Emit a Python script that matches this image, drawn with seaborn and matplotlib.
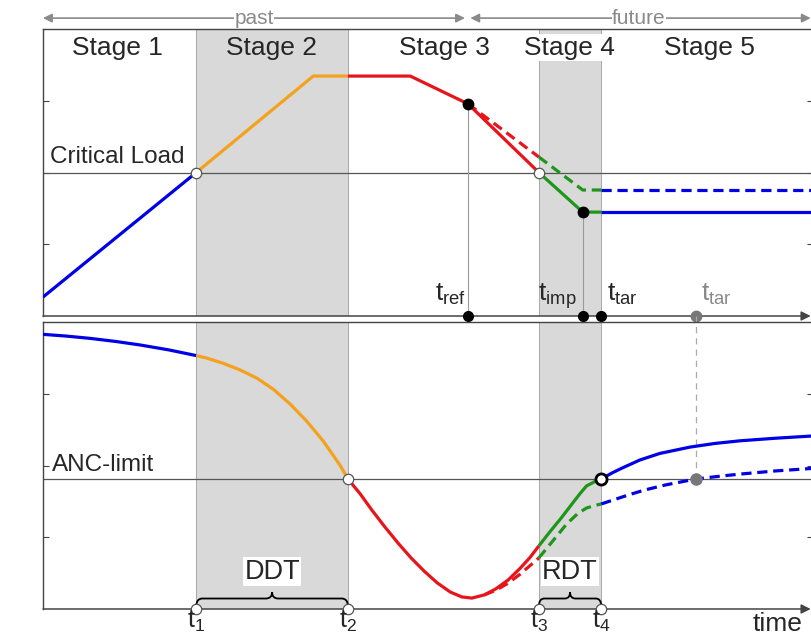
import matplotlib
matplotlib.use("Agg")
import matplotlib.pyplot as plt
from matplotlib.path import Path
from matplotlib.patches import PathPatch
import seaborn as sns

# key times (arbitrary time units, axis runs 0..100)
t1, t2, t3, t4 = 19.9, 39.6, 64.4, 72.5
t_ref, t_imp, t_tar_late = 55.2, 70.1, 84.8
critical_load = 50.0
anc_limit = 45.3

# --- acid deposition (top panel) ---
dep_hist_t = [0, t1]
dep_hist_y = [6.6, 50.0]
dep_rise_t = [t1, 35.1, t2]
dep_rise_y = [50.0, 83.6, 83.6]
dep_red_t = [t2, 47.7, t_ref, t3]
dep_red_y = [83.6, 83.6, 73.9, 50.0]
dep_red_slow_t = [t_ref, t3]
dep_red_slow_y = [73.9, 55.4]
dep_green_t = [t3, t_imp, t4]
dep_green_y = [50.0, 36.2, 36.2]
dep_green_slow_t = [t3, t_imp, t4]
dep_green_slow_y = [55.4, 43.9, 43.9]
dep_future_t = [t4, 100]
dep_future_y = [36.2, 36.2]
dep_future_slow_y = [43.9, 43.9]

# --- chemical response (bottom panel) ---
chem_blue_t = [0, 3.0, 6.1, 9.5, 12.6, 16.3, t1]
chem_blue_y = [95.7, 95.1, 94.3, 93.2, 92.0, 90.3, 88.3]
chem_orange_t = [t1, 21.3, 23.4, 25.6, 27.8, 29.9, 32.1, 34.2, 36.4, 38.6, t2]
chem_orange_y = [88.3, 87.4, 85.6, 83.3, 80.4, 76.6, 71.4, 65.6, 58.5, 50.0, anc_limit]
chem_red_t = [t2, 41.2, 42.7, 44.4, 46.1, 47.8, 49.5, 51.2, 52.9, 54.4, 55.7, 57.3,
              58.8, 60.4, 61.9, 63.2, t3]
chem_red_y = [anc_limit, 40.1, 34.5, 28.6, 23.0, 17.8, 13.2, 9.1, 5.9, 4.2, 3.8, 4.9,
              7.0, 10.1, 14.0, 17.8, 22.0]
chem_red_slow_t = [57.3, 58.8, 60.4, 61.9, 63.2, t3]
chem_red_slow_y = [4.9, 6.5, 9.0, 12.0, 15.0, 17.8]
chem_green_t = [t3, 65.8, 67.3, 68.7, 69.8, 70.6, 71.6, t4]
chem_green_y = [22.0, 26.8, 31.7, 36.6, 40.4, 42.9, 44.3, anc_limit]
chem_green_slow_t = [t3, 66.2, 68.0, 69.5, 70.6, 71.7, t4]
chem_green_slow_y = [17.8, 23.7, 29.6, 33.4, 35.2, 36.1, 36.6]
chem_future_t = [t4, 73.9, 75.2, 77.5, 80.1, 84.0, 87.3, 90.5, 95.1, 100]
chem_future_y = [anc_limit, 47.4, 49.1, 51.9, 54.2, 56.4, 57.7, 58.6, 59.5, 60.3]
chem_future_slow_t = [t4, 74.3, 76.2, 78.2, 80.8, t_tar_late, 88.0, 90.5, 95.1, 100]
chem_future_slow_y = [36.6, 38.2, 39.9, 41.5, 43.2, anc_limit, 46.3, 47.0, 48.1, 49.0]

stage_labels = ["Stage 1", "Stage 2", "Stage 3", "Stage 4", "Stage 5"]
stage_pos = [9.7, 29.7, 52.1, 68.4, 86.5]

BLUE = "#0000e6"
ORANGE = "#f4a11d"
RED = "#e8141b"
GREEN = "#1e9619"
SHADE = "#d9d9d9"
AXC = "#444444"
DASH = (0, (3.2, 1.8))

sns.set_theme(style="white")
plt.rcParams["font.family"] = ["Liberation Sans", "DejaVu Sans"]
plt.rcParams["mathtext.fontset"] = "custom"
plt.rcParams["mathtext.rm"] = "Liberation Sans"
plt.rcParams["mathtext.it"] = "Liberation Sans"


def seg(ax, x, y, color, dashed=False):
    sns.lineplot(x=x, y=y, ax=ax, color=color, lw=2.3, estimator=None, sort=False,
                 linestyle=DASH if dashed else "-", legend=False, zorder=4,
                 solid_capstyle="butt", dash_capstyle="butt", solid_joinstyle="round")


def brace(ax, x0, x1, y0, h, r=0.8):
    xm = (x0 + x1) / 2
    yh = y0 + h * 0.55
    verts = [(x0, y0), (x0, yh), (x0 + r, yh), (xm - r, yh), (xm, yh), (xm, y0 + h),
             (xm, yh), (xm + r, yh), (x1 - r, yh), (x1, yh), (x1, y0)]
    codes = [Path.MOVETO, Path.CURVE3, Path.CURVE3, Path.LINETO, Path.CURVE3, Path.CURVE3,
             Path.CURVE3, Path.CURVE3, Path.LINETO, Path.CURVE3, Path.CURVE3]
    ax.add_patch(PathPatch(Path(verts, codes), fill=False, lw=1.3, color="black",
                           clip_on=False, zorder=6))


def setup(ax):
    ax.set_xlim(0, 100)
    ax.set_ylim(0, 100)
    ax.set_xticks([])
    ax.set_yticks([25, 50, 75])
    ax.tick_params(axis="y", direction="in", length=4, width=0.8, color=AXC,
                   left=True, right=True, labelleft=False)
    for s in ["left", "top", "right"]:
        ax.spines[s].set_color(AXC)
        ax.spines[s].set_linewidth(1.0)
    ax.spines["bottom"].set_visible(False)
    for a, b in [(t1, t2), (t3, t4)]:
        ax.axvspan(a, b, facecolor=SHADE, edgecolor="#a8a8a8", lw=0.7, zorder=0)
    ax.annotate("", xy=(99.7, 0), xytext=(0, 0), annotation_clip=False,
                arrowprops=dict(arrowstyle="-|>", color=AXC, lw=1.1, mutation_scale=14,
                                shrinkA=0, shrinkB=0), zorder=5)


fig = plt.figure(figsize=(8.11, 6.35), dpi=100)
ax_top = fig.add_axes([43 / 811, 1 - 316 / 635, 770 / 811, 287 / 635])
ax_bot = fig.add_axes([43 / 811, 1 - 609 / 635, 770 / 811, 287 / 635])
setup(ax_top)
setup(ax_bot)

# ---------- top panel ----------
ax = ax_top
ax.axhline(critical_load, color="#555555", lw=0.9, zorder=2)
ax.vlines([t_ref], 0, dep_red_y[2], color="#9a9a9a", lw=0.8, zorder=2)
ax.vlines([t_imp], 0, dep_green_y[1], color="#9a9a9a", lw=0.8, zorder=2)
seg(ax, dep_hist_t, dep_hist_y, BLUE)
seg(ax, dep_rise_t, dep_rise_y, ORANGE)
seg(ax, dep_red_slow_t, dep_red_slow_y, RED, True)
seg(ax, dep_red_t, dep_red_y, RED)
seg(ax, dep_green_slow_t, dep_green_slow_y, GREEN, True)
seg(ax, dep_green_t, dep_green_y, GREEN)
seg(ax, dep_future_t, dep_future_slow_y, BLUE, True)
seg(ax, dep_future_t, dep_future_y, BLUE)
ax.plot([t1, t3], [critical_load, critical_load], "o", ms=7.5, mfc="white", mec="#555555",
        mew=0.9, zorder=7)
ax.plot([t_ref, t_imp], [dep_red_y[2], dep_green_y[1]], "o", ms=7.5, color="black", zorder=7)
ax.plot([t_ref, t_imp, t4], [0, 0, 0], "o", ms=7, color="black", zorder=7, clip_on=False)
ax.plot([t_tar_late], [0], "o", ms=7.5, color="#777777", zorder=7, clip_on=False)

ax.text(0.9, 51.5, "Critical Load", fontsize=17.5, ha="left", va="bottom", zorder=8)
for lab, pos in zip(stage_labels, stage_pos):
    bb = dict(boxstyle="square,pad=0.05", fc="white", ec="none") if lab == "Stage 4" else None
    ax.text(pos, 93.5, lab, fontsize=19, ha="center", va="center", bbox=bb, zorder=8)
ax.text(54.9, 5.4, r"$\mathregular{t_{ref}}$", fontsize=19, ha="right", va="baseline", zorder=8)
ax.text(66.8, 5.4, r"$\mathregular{t_{imp}}$", fontsize=19, ha="center", va="baseline", zorder=8)
ax.text(75.3, 5.4, r"$\mathregular{t_{tar}}$", fontsize=19, ha="center", va="baseline", zorder=8)
ax.text(87.5, 5.4, r"$\mathregular{t_{tar}}$", fontsize=19, ha="center", va="baseline",
        color="#8a8a8a", zorder=8)
ax.set_ylabel("Acid deposition", fontsize=19.5, labelpad=8)

# past / future arrows above the panel
for a, b, lab, mid in [(0, 54.8, "past", 27.4), (55.5, 99.7, "future", 77.4)]:
    ax.annotate("", xy=(b, 103.8), xytext=(a, 103.8), annotation_clip=False,
                arrowprops=dict(arrowstyle="<|-|>", color="#8a8a8a", lw=1.2,
                                mutation_scale=13, shrinkA=0, shrinkB=0))
    ax.text(mid, 103.8, lab, fontsize=15, color="#8a8a8a", ha="center", va="center",
            clip_on=False, bbox=dict(boxstyle="square,pad=0.02", fc="white", ec="none"))

# ---------- bottom panel ----------
ax = ax_bot
ax.axhline(anc_limit, color="#555555", lw=0.9, zorder=2)
ax.vlines([t_tar_late], anc_limit, 102.1, color="#aaaaaa", lw=0.9, linestyles=(0, (5, 4)),
          zorder=2, clip_on=False)
seg(ax, chem_blue_t, chem_blue_y, BLUE)
seg(ax, chem_orange_t, chem_orange_y, ORANGE)
seg(ax, chem_red_slow_t, chem_red_slow_y, RED, True)
seg(ax, chem_red_t, chem_red_y, RED)
seg(ax, chem_green_slow_t, chem_green_slow_y, GREEN, True)
seg(ax, chem_green_t, chem_green_y, GREEN)
seg(ax, chem_future_slow_t, chem_future_slow_y, BLUE, True)
seg(ax, chem_future_t, chem_future_y, BLUE)
ax.plot([t2], [anc_limit], "o", ms=7.5, mfc="white", mec="#555555", mew=0.9, zorder=7)
ax.plot([t4], [anc_limit], "o", ms=8, mfc="white", mec="black", mew=2, zorder=7)
ax.plot([t_tar_late], [anc_limit], "o", ms=8, color="#777777", zorder=7)
ax.plot([t1, t2, t3, t4], [0, 0, 0, 0], "o", ms=7.5, mfc="white", mec="#555555", mew=0.9,
        zorder=7, clip_on=False)

brace(ax, t1, t2, 0.9, 5.0)
brace(ax, t3, t4, 0.9, 5.0, r=0.7)
txt_bb = dict(boxstyle="square,pad=0.05", fc="white", ec="none")
ax.text((t1 + t2) / 2, 13.0, "DDT", fontsize=19.5, ha="center", va="center", bbox=txt_bb, zorder=8)
ax.text((t3 + t4) / 2, 13.0, "RDT", fontsize=19.5, ha="center", va="center", bbox=txt_bb, zorder=8)
ax.text(1.2, 50.2, "ANC-limit", fontsize=17.5, ha="left", va="center", zorder=8)
for pos, lab in zip([t1, t2, t3, t4], ["1", "2", "3", "4"]):
    ax.text(pos, -6.6, r"$\mathregular{t_{%s}}$" % lab, fontsize=18, ha="center", va="baseline",
            clip_on=False, zorder=8)
ax.text(95.4, -7.6, "time", fontsize=19, ha="center", va="baseline", clip_on=False)
ax.set_ylabel("Chemical response", fontsize=19.5, labelpad=8)

fig.savefig("out.png", dpi=100)
